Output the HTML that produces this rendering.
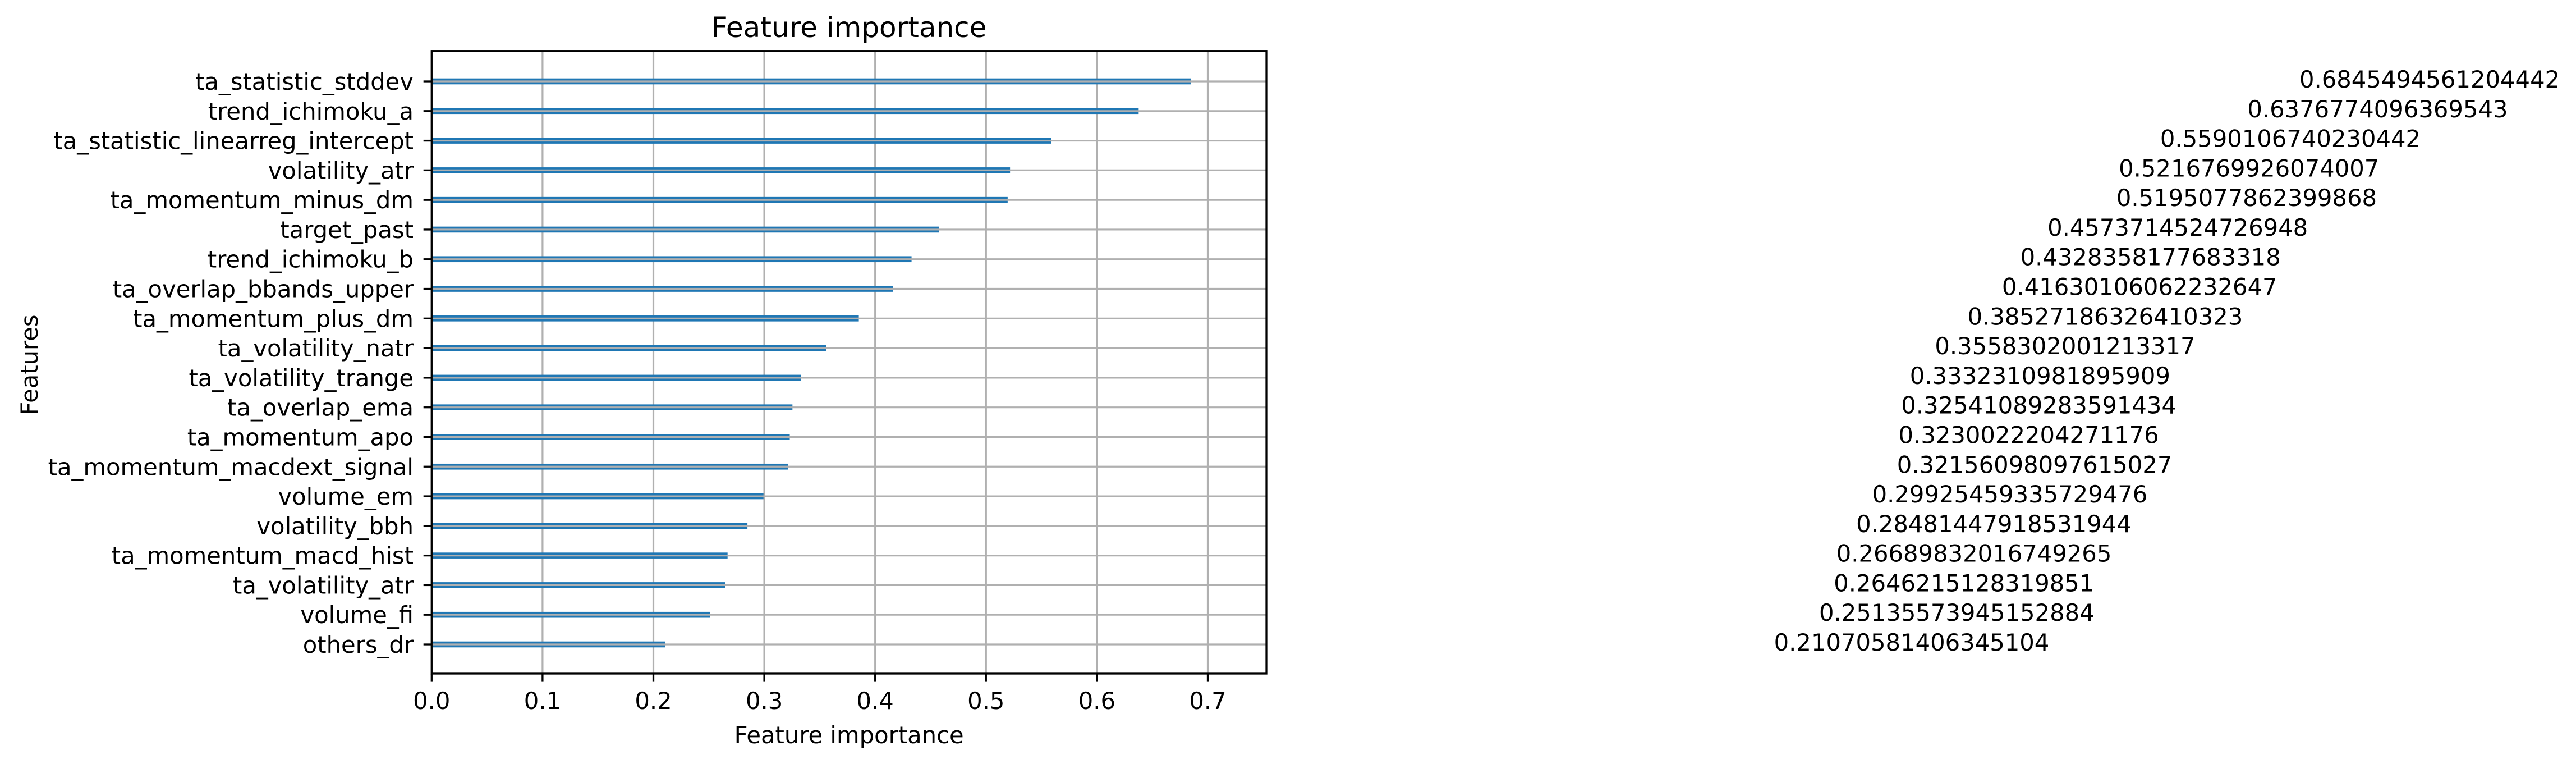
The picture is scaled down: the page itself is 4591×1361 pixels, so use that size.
<!DOCTYPE html>
<html><head><meta charset="utf-8"><style>
html,body{margin:0;padding:0;background:#fff;}
svg{display:block;}
text{font-family:"DejaVu Sans","Liberation Sans",sans-serif;fill:#000;}
</style></head><body>
<svg id="chart" xmlns="http://www.w3.org/2000/svg" width="4591" height="1361" viewBox="0 0 4591 1361">
<rect width="4591" height="1361" fill="#fff"/>
<g id="grid"></g><g id="bars"></g><g id="axes"></g><g id="labels"></g>
</svg>
<script>
const features = ["ta_statistic_stddev","trend_ichimoku_a","ta_statistic_linearreg_intercept","volatility_atr","ta_momentum_minus_dm","target_past","trend_ichimoku_b","ta_overlap_bbands_upper","ta_momentum_plus_dm","ta_volatility_natr","ta_volatility_trange","ta_overlap_ema","ta_momentum_apo","ta_momentum_macdext_signal","volume_em","volatility_bbh","ta_momentum_macd_hist","ta_volatility_atr","volume_fi","others_dr"];
const importances = [0.6845494561204442,0.6376774096369543,0.5590106740230442,0.5216769926074007,0.5195077862399868,0.4573714524726948,0.4328358177683318,0.41630106062232647,0.38527186326410323,0.3558302001213317,0.3332310981895909,0.32541089283591434,0.3230022204271176,0.32156098097615027,0.29925459335729476,0.28481447918531944,0.26689832016749265,0.2646215128319851,0.25135573945152884,0.21070581406345104];
const valueLabels = ["0.6845494561204442","0.6376774096369543","0.5590106740230442","0.5216769926074007","0.5195077862399868","0.4573714524726948","0.4328358177683318","0.41630106062232647","0.38527186326410323","0.3558302001213317","0.3332310981895909","0.32541089283591434","0.3230022204271176","0.32156098097615027","0.29925459335729476","0.28481447918531944","0.26689832016749265","0.2646215128319851","0.25135573945152884","0.21070581406345104"];
const xTicks = [0,0.1,0.2,0.3,0.4,0.5,0.6,0.7];
const xTickLabels = ["0.0","0.1","0.2","0.3","0.4","0.5","0.6","0.7"];

const NS="http://www.w3.org/2000/svg";
const L=769.3,R=2257,T=90.7,B=1200,PX=1976;
const n=features.length;
const rowStep=(1148-145)/(n-1);
function xs(v){return L+v*PX;}
function ys(i){return 145+i*rowStep;}
function mk(tag,attrs,parent,txt){const e=document.createElementNS(NS,tag);for(const k in attrs)e.setAttribute(k,attrs[k]);if(txt!==undefined)e.textContent=txt;parent.appendChild(e);return e;}
const grid=document.getElementById('grid'),bars=document.getElementById('bars'),axes=document.getElementById('axes'),labels=document.getElementById('labels');

xTicks.forEach((t,k)=>{
  const g=mk('line',{x1:xs(t),x2:xs(t),y1:T,y2:B,stroke:'#b0b0b0','stroke-width':3.2},grid);
  
  
  const tk=mk('line',{x1:xs(t),x2:xs(t),y1:B,y2:B+14.6,stroke:'#000','stroke-width':3.3},axes);
  
  
  const tl=mk('text',{x:xs(t),y:1263,'font-size':41.7,'text-anchor':'middle'},labels,xTickLabels[k]);
  
  
});

features.forEach((f,i)=>{
  const y=ys(i);
  const b=mk('rect',{x:L,y:y-5.3,width:xs(importances[i])-L,height:10.6,fill:'#1f77b4'},bars);
  
  
  const g=mk('line',{x1:L,x2:R,y1:y,y2:y,stroke:'#b0b0b0','stroke-width':3.2},bars);
  
  
  const tk=mk('line',{x1:L-14.6,x2:L,y1:y,y2:y,stroke:'#000','stroke-width':3.3},axes);
  
  
  const tl=mk('text',{x:737,y:y+15,'font-size':41.7,'text-anchor':'end'},labels,f);
  
  
  const vl=mk('text',{x:xs(importances[i]+1),y:y+11,'font-size':41.7},labels,valueLabels[i]);
  
  
});

const frame=mk('rect',{x:L,y:T,width:R-L,height:B-T,fill:'none',stroke:'#000','stroke-width':3.3},axes);


const title=mk('text',{x:(L+R)/2,y:66,'font-size':50,'text-anchor':'middle'},labels,'Feature importance');


const xl=mk('text',{x:(L+R)/2,y:1324,'font-size':41.7,'text-anchor':'middle'},labels,'Feature importance');


const yl=mk('text',{x:0,y:0,'font-size':41.7,'text-anchor':'middle',transform:'translate(67,650) rotate(-90)'},labels,'Features');


</script>
</body></html>
